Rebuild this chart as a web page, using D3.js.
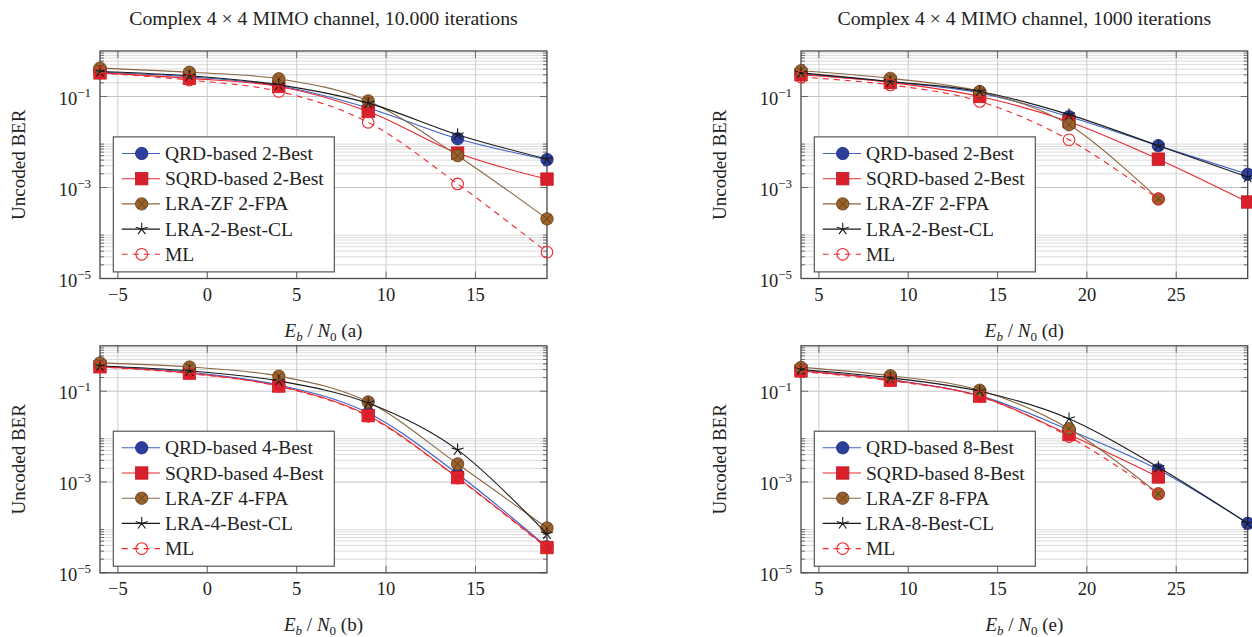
<!DOCTYPE html>
<html>
<head>
<meta charset="utf-8">
<script src="https://cdn.jsdelivr.net/npm/d3@7"></script>
<style>
    body { margin: 0; background: #fff; }
    svg { font-family: "Liberation Serif", "Times New Roman", serif; }
</style>
</head>
<body>
<div id="chart"></div>
<script>

// snr grids (dB)
let snrLow = [-6, -1, 4, 9, 14, 19];
let snrHigh = [4, 9, 14, 19, 24, 29];

// panel (a): 2-best, 10.000 iterations
let qrdA  = [0.34, 0.27, 0.172, 0.056, 0.0118, 0.0041];
let sqrdA = [0.33, 0.25, 0.166, 0.047, 0.0057, 0.00153];
let zfA   = [0.42, 0.34, 0.245, 0.080, 0.0050, 0.000204];
let clA   = [0.355, 0.285, 0.18, 0.0716, 0.0145, 0.0042];
let mlA   = [0.33, 0.23, 0.129, 0.027, 0.0012, 0.000038];

// panel (d): 2-best, 1000 iterations
let qrdD  = [0.31, 0.21, 0.12, 0.036, 0.0083, 0.00195];
let sqrdD = [0.30, 0.204, 0.10, 0.028, 0.0042, 0.00048];
let zfD   = [0.367, 0.25, 0.129, 0.024, 0.00056, null];
let clD   = [0.33, 0.214, 0.129, 0.040, 0.0083, 0.0017];
let mlD   = [0.267, 0.18, 0.078, 0.0112, 0.00056, null];

// panel (b): 4-best
let qrdB  = [0.35, 0.26, 0.137, 0.033, 0.0015, 0.000037];
let sqrdB = [0.345, 0.25, 0.13, 0.029, 0.00125, 0.000036];
let zfB   = [0.42, 0.34, 0.215, 0.058, 0.0025, 0.000097];
let clB   = [0.36, 0.28, 0.168, 0.055, 0.0051, 0.000072];
let mlB   = [0.34, 0.245, 0.128, 0.028, 0.00122, 0.000035];

// panel (e): 8-best
let qrdE  = [0.29, 0.18, 0.08, 0.014, 0.00186, 0.000123];
let sqrdE = [0.28, 0.175, 0.078, 0.0111, 0.00129, null];
let zfE   = [0.334, 0.219, 0.105, 0.0149, 0.00055, null];
let clE   = [0.30, 0.197, 0.10, 0.0248, 0.00212, 0.000123];
let mlE   = [0.27, 0.17, 0.076, 0.010, 0.00055, null];

// legend labels
let namesA = ["QRD-based 2-Best", "SQRD-based 2-Best", "LRA-ZF 2-FPA", "LRA-2-Best-CL", "ML"];
let namesB = ["QRD-based 4-Best", "SQRD-based 4-Best", "LRA-ZF 4-FPA", "LRA-4-Best-CL", "ML"];
let namesE = ["QRD-based 8-Best", "SQRD-based 8-Best", "LRA-ZF 8-FPA", "LRA-8-Best-CL", "ML"];

// ticks
let xTicksLow = [-5, 0, 5, 10, 15];
let xTicksHigh = [5, 10, 15, 20, 25];
let yTickExp = [-1, -3, -5];
let minorMult = [2, 3, 4, 5, 6, 7, 8, 9];

let titleA = "Complex 4 \u00d7 4 MIMO channel, 10.000 iterations";
let titleD = "Complex 4 \u00d7 4 MIMO channel, 1000 iterations";


// one style per series slot (qrd, sqrd, zf, cl, ml)
const styles = [
    {line: "#3d5fc8", mark: "circle", fill: "#2c3d9c", edge: "#1f2c7a"},
    {line: "#e8262e", mark: "square", fill: "#d7202b", edge: "#c01a22"},
    {line: "#8a6744", mark: "otimes", fill: "#9b622c", edge: "#5e3c1c"},
    {line: "#1a1a1a", mark: "star", fill: "none", edge: "#1a1a1a"},
    {line: "#f0282d", mark: "ocircle", fill: "none", edge: "#f0282d", dash: "6,5"}
];


class BerVis {

    constructor(svg, box, panel) {
        this.svg = svg;
        this.box = box;
        this.panel = panel;

        this.initVis();
    }

    initVis() {
        let vis = this;
        let b = vis.box;

        vis.g = vis.svg.append("g").attr("class", "panel");

        vis.x = d3.scaleLinear().domain(vis.panel.xDomain).range([b.left, b.right]);
        vis.y = d3.scaleLog().domain([1e-5, 1]).range([b.bottom, b.top]);

        // grid - minor first, then majors on top
        let minorVals = [];
        yTickExp.forEach(e => minorMult.forEach(k => minorVals.push(k * Math.pow(10, e))));
        let majorVals = yTickExp.map(e => Math.pow(10, e));

        vis.g.append("g").selectAll("line")
            .data(minorVals)
            .enter().append("line")
            .attr("x1", b.left).attr("x2", b.right)
            .attr("y1", d => vis.y(d)).attr("y2", d => vis.y(d))
            .attr("stroke", "#dadada").attr("stroke-width", 1);

        vis.g.append("g").selectAll("line")
            .data(majorVals)
            .enter().append("line")
            .attr("x1", b.left).attr("x2", b.right)
            .attr("y1", d => vis.y(d)).attr("y2", d => vis.y(d))
            .attr("stroke", "#c4c4c4").attr("stroke-width", 1);

        vis.g.append("g").selectAll("line")
            .data(vis.panel.xTicks)
            .enter().append("line")
            .attr("x1", d => vis.x(d)).attr("x2", d => vis.x(d))
            .attr("y1", b.top).attr("y2", b.bottom)
            .attr("stroke", "#cdcdcd").attr("stroke-width", 1);

        // tick marks, inside on all four sides
        let ticks = vis.g.append("g").attr("stroke", "#6a6a6a").attr("stroke-width", 1);
        majorVals.forEach(v => {
            ticks.append("line").attr("x1", b.left).attr("x2", b.left + 7).attr("y1", vis.y(v)).attr("y2", vis.y(v));
            ticks.append("line").attr("x1", b.right - 7).attr("x2", b.right).attr("y1", vis.y(v)).attr("y2", vis.y(v));
        });
        minorVals.forEach(v => {
            ticks.append("line").attr("x1", b.left).attr("x2", b.left + 4).attr("y1", vis.y(v)).attr("y2", vis.y(v));
            ticks.append("line").attr("x1", b.right - 4).attr("x2", b.right).attr("y1", vis.y(v)).attr("y2", vis.y(v));
        });
        vis.panel.xTicks.forEach(t => {
            ticks.append("line").attr("x1", vis.x(t)).attr("x2", vis.x(t)).attr("y1", b.bottom).attr("y2", b.bottom - 7);
            ticks.append("line").attr("x1", vis.x(t)).attr("x2", vis.x(t)).attr("y1", b.top).attr("y2", b.top + 7);
        });

        // axis box
        vis.g.append("rect")
            .attr("x", b.left).attr("y", b.top)
            .attr("width", b.right - b.left).attr("height", b.bottom - b.top)
            .attr("fill", "none").attr("stroke", "#474747").attr("stroke-width", 1.3);

        // tick labels
        vis.g.append("g").selectAll("text")
            .data(vis.panel.xTicks)
            .enter().append("text")
            .attr("x", d => vis.x(d))
            .attr("y", b.bottom + 22.5)
            .attr("text-anchor", "middle")
            .attr("font-size", 18.5)
            .attr("fill", "#222")
            .text(d => d < 0 ? "\u2212" + Math.abs(d) : d);

        let yl = vis.g.append("g").selectAll("text")
            .data(yTickExp)
            .enter().append("text")
            .attr("x", b.left - 9)
            .attr("y", d => vis.y(Math.pow(10, d)) + 8)
            .attr("text-anchor", "end")
            .attr("font-size", 18.5)
            .attr("fill", "#222");
        yl.append("tspan").text("10");
        yl.append("tspan").attr("dy", -8).attr("font-size", 13).text(d => "\u2212" + Math.abs(d));

        // axis titles
        vis.g.append("text")
            .attr("transform", `translate(${b.left - 75}, ${(b.top + b.bottom) / 2}) rotate(-90)`)
            .attr("text-anchor", "middle")
            .attr("font-size", 19)
            .attr("fill", "#222")
            .text("Uncoded BER");

        let xl = vis.g.append("text")
            .attr("x", (b.left + b.right) / 2)
            .attr("y", b.bottom + 58)
            .attr("text-anchor", "middle")
            .attr("font-size", 19)
            .attr("fill", "#222");
        xl.append("tspan").attr("font-style", "italic").text("E");
        xl.append("tspan").attr("font-style", "italic").attr("font-size", 13).attr("dy", 4).text("b");
        xl.append("tspan").attr("dy", -4).text(" / ");
        xl.append("tspan").attr("font-style", "italic").text("N");
        xl.append("tspan").attr("font-size", 13).attr("dy", 4).text("0");
        xl.append("tspan").attr("dy", -4).text(" (" + vis.panel.tag + ")");

        if (vis.panel.title) {
            vis.g.append("text")
                .attr("x", (b.left + b.right) / 2)
                .attr("y", b.top - 26)
                .attr("text-anchor", "middle")
                .attr("font-size", 19.8)
                .attr("fill", "#222")
                .text(vis.panel.title);
        }

        vis.wrangleData();
    }

    wrangleData() {
        let vis = this;

        // pair x with y and drop the missing points
        vis.displayData = vis.panel.series.map((vals, i) => ({
            name: vis.panel.names[i],
            style: styles[i],
            points: vals.map((v, j) => [vis.panel.snr[j], v]).filter(p => p[1] != null)
        }));

        vis.updateVis();
    }

    updateVis() {
        let vis = this;
        let b = vis.box;

        let line = d3.line()
            .x(d => vis.x(d[0]))
            .y(d => vis.y(d[1]))
            .curve(d3.curveCatmullRom.alpha(0));

        vis.displayData.forEach(s => {
            let sg = vis.g.append("g").attr("class", "series");

            sg.append("path")
                .attr("d", line(s.points))
                .attr("fill", "none")
                .attr("stroke", s.style.line)
                .attr("stroke-width", 1.1)
                .attr("stroke-dasharray", s.style.dash || null);

            s.points.forEach(p => {
                let mg = sg.append("g").attr("transform", `translate(${vis.x(p[0])}, ${vis.y(p[1])})`);
                drawMarker(mg, s.style);
            });
        });

        // legend box in the lower left corner
        let lx = b.left + 13.3;
        let ly = b.bottom - 141.6;
        let legend = vis.g.append("g").attr("class", "legend");

        legend.append("rect")
            .attr("x", lx).attr("y", ly)
            .attr("width", 221).attr("height", 135)
            .attr("fill", "#fff")
            .attr("stroke", "#474747").attr("stroke-width", 1.1);

        vis.displayData.forEach((s, i) => {
            let ey = ly + 16.6 + i * 25.2;

            legend.append("line")
                .attr("x1", lx + 8.4).attr("x2", lx + 46.7)
                .attr("y1", ey).attr("y2", ey)
                .attr("stroke", s.style.line)
                .attr("stroke-width", 1.1)
                .attr("stroke-dasharray", s.style.dash || null);

            drawMarker(legend.append("g").attr("transform", `translate(${lx + 28.4}, ${ey})`), s.style);

            legend.append("text")
                .attr("x", lx + 51.7)
                .attr("y", ey + 6.5)
                .attr("font-size", 19.5)
                .attr("fill", "#222")
                .text(s.name);
        });
    }
}


function drawMarker(g, st) {
    if (st.mark === "circle") {
        g.append("circle").attr("r", 6.2).attr("fill", st.fill).attr("stroke", st.edge).attr("stroke-width", 0.8);
    } else if (st.mark === "square") {
        g.append("rect").attr("x", -6.2).attr("y", -6.2).attr("width", 12.4).attr("height", 12.4)
            .attr("fill", st.fill).attr("stroke", st.edge).attr("stroke-width", 0.8);
    } else if (st.mark === "otimes") {
        g.append("circle").attr("r", 6.2).attr("fill", st.fill).attr("stroke", st.edge).attr("stroke-width", 0.8);
        g.append("path").attr("d", "M-4.3,-4.3L4.3,4.3M-4.3,4.3L4.3,-4.3")
            .attr("stroke", st.edge).attr("stroke-width", 0.9);
    } else if (st.mark === "star") {
        let d = "";
        for (let k = 0; k < 5; k++) {
            let a = (-90 + k * 72) * Math.PI / 180;
            d += `M0,0L${6.3 * Math.cos(a)},${6.3 * Math.sin(a)}`;
        }
        g.append("path").attr("d", d).attr("stroke", st.edge).attr("stroke-width", 1.1).attr("fill", "none");
    } else if (st.mark === "ocircle") {
        g.append("circle").attr("r", 5.8).attr("fill", "none").attr("stroke", st.edge).attr("stroke-width", 1.1);
    }
}


let svg = d3.select("#chart")
    .append("svg")
    .attr("width", 1252)
    .attr("height", 637);

let topRow = {top: 51, bottom: 278.5};
let botRow = {top: 345.8, bottom: 572.8};
let leftCol = {left: 100, right: 547};
let rightCol = {left: 801, right: 1247.7};

new BerVis(svg, Object.assign({}, leftCol, topRow), {
    xDomain: [-6, 19], xTicks: xTicksLow, snr: snrLow, tag: "a", title: titleA,
    names: namesA, series: [qrdA, sqrdA, zfA, clA, mlA]
});
new BerVis(svg, Object.assign({}, rightCol, topRow), {
    xDomain: [4, 29], xTicks: xTicksHigh, snr: snrHigh, tag: "d", title: titleD,
    names: namesA, series: [qrdD, sqrdD, zfD, clD, mlD]
});
new BerVis(svg, Object.assign({}, leftCol, botRow), {
    xDomain: [-6, 19], xTicks: xTicksLow, snr: snrLow, tag: "b", title: null,
    names: namesB, series: [qrdB, sqrdB, zfB, clB, mlB]
});
new BerVis(svg, Object.assign({}, rightCol, botRow), {
    xDomain: [4, 29], xTicks: xTicksHigh, snr: snrHigh, tag: "e", title: null,
    names: namesE, series: [qrdE, sqrdE, zfE, clE, mlE]
});

</script>
</body>
</html>
